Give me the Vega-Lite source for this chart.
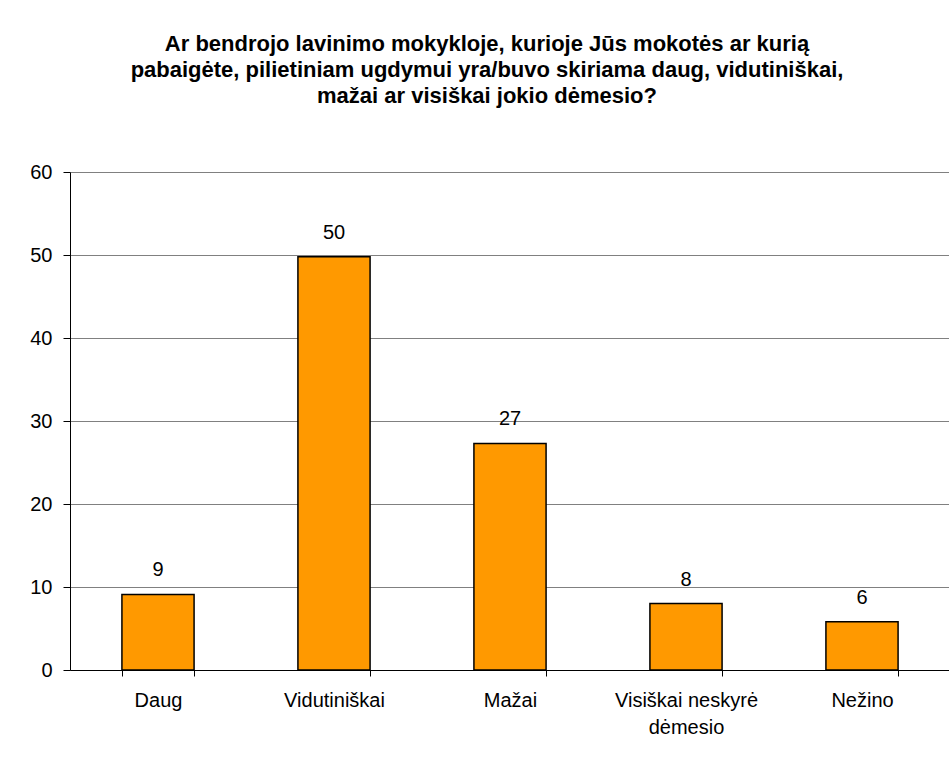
{
  "$schema": "https://vega.github.io/schema/vega-lite/v6.json",
  "autosize": "none",
  "width": 880,
  "height": 498,
  "padding": {"left": 70, "top": 172, "right": 0, "bottom": 90},
  "background": "#FFFFFF",
  "config": {
    "view": {"stroke": null},
    "font": "Liberation Sans"
  },
  "title": {
    "text": [
      "Ar bendrojo lavinimo mokykloje, kurioje Jūs mokotės ar kurią",
      "pabaigėte, pilietiniam ugdymui yra/buvo skiriama daug, vidutiniškai,",
      "mažai ar visiškai jokio dėmesio?"
    ],
    "font": "Liberation Sans",
    "fontSize": 22,
    "fontWeight": "bold",
    "color": "#000000",
    "lineHeight": 26,
    "anchor": "middle",
    "frame": "group",
    "dx": -23,
    "offset": 54
  },
  "data": {
    "values": [
      {"cat": "Daug", "value": 9.1},
      {"cat": "Vidutiniškai", "value": 49.8},
      {"cat": "Mažai", "value": 27.3},
      {"cat": "Visiškai neskyrė dėmesio", "value": 8.0},
      {"cat": "Nežino", "value": 5.8}
    ]
  },
  "encoding": {
    "x": {
      "field": "cat",
      "type": "nominal",
      "sort": null,
      "scale": {"paddingInner": 0.59, "paddingOuter": 0.295},
      "axis": {
        "title": null,
        "labelAngle": 0,
        "labelFont": "Liberation Sans",
        "labelFontSize": 20,
        "labelColor": "#000000",
        "labelPadding": 14,
        "labelLineHeight": 27,
        "labelExpr": "datum.label == 'Visiškai neskyrė dėmesio' ? ['Visiškai neskyrė', 'dėmesio'] : datum.label",
        "domainColor": "#000000",
        "tickColor": "#000000",
        "tickSize": 6,
        "tickBand": "extent",
        "grid": false
      }
    },
    "y": {
      "field": "value",
      "type": "quantitative",
      "scale": {"domain": [0, 60], "nice": false},
      "axis": {
        "title": null,
        "values": [0, 10, 20, 30, 40, 50, 60],
        "labelFont": "Liberation Sans",
        "labelFontSize": 20,
        "labelColor": "#000000",
        "labelPadding": 11,
        "domainColor": "#000000",
        "tickColor": "#000000",
        "tickSize": 7,
        "grid": true,
        "gridColor": "#808080",
        "gridWidth": 1
      }
    }
  },
  "layer": [
    {
      "mark": {"type": "bar", "fill": "#FF9900", "stroke": "#000000", "strokeWidth": 1.5}
    },
    {
      "mark": {"type": "text", "baseline": "bottom", "dy": -14, "font": "Liberation Sans", "fontSize": 20, "color": "#000000"},
      "encoding": {
        "text": {"field": "value", "type": "quantitative", "format": ".0f"}
      }
    }
  ]
}
